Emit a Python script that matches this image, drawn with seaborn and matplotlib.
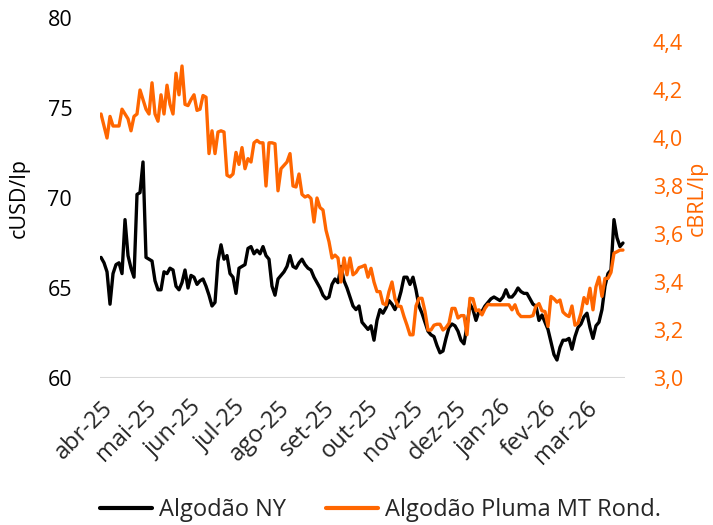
import numpy as np
import pandas as pd
import matplotlib
matplotlib.use("Agg")
import matplotlib.pyplot as plt
import seaborn as sns

# ---------------- data ----------------
month_labels = ["abr-25", "mai-25", "jun-25", "jul-25", "ago-25", "set-25",
                "out-25", "nov-25", "dez-25", "jan-26", "fev-26", "mar-26"]
start_date = "2025-04-01"
end_date = "2026-03-27"

ny_usd = [
    66.7, 66.4, 65.9, 64.1, 65.8, 66.3, 66.4, 65.8, 68.8, 66.8,
    66.1, 65.6, 70.2, 70.3, 72.0, 66.7, 66.6, 66.5, 65.4, 64.9,
    64.9, 65.9, 65.8, 66.1, 66.0, 65.1, 64.9, 65.3, 66.0, 65.0,
    65.7, 65.6, 65.2, 65.4, 65.5, 65.1, 64.6, 64.0, 64.2, 66.5,
    67.4, 66.6, 66.8, 65.8, 65.6, 64.7, 66.1, 66.2, 66.3, 67.2,
    67.3, 66.9, 67.1, 66.9, 67.3, 66.8, 66.6, 65.1, 64.6, 65.5,
    65.7, 65.9, 66.2, 66.8, 66.2, 66.1, 66.4, 66.6, 66.3, 66.1,
    66.0, 65.6, 65.3, 65.0, 64.6, 64.4, 64.5, 65.2, 65.5, 65.3,
    66.2, 65.4, 65.0, 64.5, 64.0, 63.8, 64.0, 63.1, 62.9, 62.7,
    62.9, 62.1, 63.2, 63.8, 63.6, 63.9, 64.3, 64.1, 63.8, 64.2,
    64.8, 65.6, 65.6, 65.2, 65.6, 64.9, 64.0, 63.6, 63.1, 62.6,
    62.4, 62.3, 61.8, 61.4, 61.5, 62.2, 62.8, 63.0, 62.9, 62.6,
    62.1, 61.9, 62.9, 64.1, 63.8, 63.2, 63.7, 63.7, 64.0, 64.2,
    64.4, 64.5, 64.4, 64.3, 64.5, 64.9, 64.5, 64.5, 64.7, 65.0,
    64.8, 64.7, 64.7, 64.4, 64.1, 64.0, 63.2, 63.5, 63.1, 62.7,
    62.0, 61.3, 61.0, 61.7, 62.1, 62.1, 62.2, 61.6, 62.3, 62.8,
    63.0, 63.4, 63.6, 62.8, 62.2, 62.9, 63.1, 63.8, 65.1, 65.8,
    66.0, 68.8, 67.8, 67.3, 67.5,
]

mt_brl = [
    4.10, 4.05, 4.00, 4.09, 4.05, 4.05, 4.05, 4.12, 4.10, 4.08,
    4.03, 4.09, 4.10, 4.20, 4.16, 4.12, 4.10, 4.23, 4.10, 4.07,
    4.18, 4.10, 4.22, 4.14, 4.10, 4.27, 4.18, 4.30, 4.14, 4.135,
    4.16, 4.18, 4.115, 4.12, 4.177, 4.17, 3.935, 4.03, 3.935, 4.025,
    4.03, 4.025, 3.845, 3.838, 3.85, 3.94, 3.89, 3.96, 3.872, 3.914,
    3.90, 3.98, 3.99, 3.98, 3.98, 3.80, 3.98, 3.98, 3.976, 3.78,
    3.872, 3.886, 3.90, 3.935, 3.80, 3.796, 3.85, 3.765, 3.754, 3.76,
    3.748, 3.65, 3.75, 3.71, 3.70, 3.616, 3.568, 3.50, 3.512, 3.50,
    3.40, 3.50, 3.43, 3.50, 3.43, 3.44, 3.46, 3.464, 3.47, 3.42,
    3.457, 3.40, 3.36, 3.36, 3.31, 3.305, 3.36, 3.40, 3.33, 3.30,
    3.298, 3.256, 3.22, 3.18, 3.18, 3.30, 3.332, 3.332, 3.277, 3.20,
    3.20, 3.22, 3.224, 3.224, 3.20, 3.21, 3.228, 3.29, 3.29, 3.25,
    3.26, 3.26, 3.18, 3.332, 3.33, 3.28, 3.284, 3.263, 3.29, 3.307,
    3.305, 3.305, 3.305, 3.305, 3.305, 3.305, 3.305, 3.284, 3.305, 3.27,
    3.256, 3.256, 3.256, 3.256, 3.26, 3.30, 3.31, 3.28, 3.277, 3.215,
    3.34, 3.33, 3.316, 3.325, 3.275, 3.263, 3.256, 3.30, 3.22, 3.228,
    3.27, 3.335, 3.31, 3.374, 3.284, 3.38, 3.42, 3.34, 3.415, 3.415,
    3.44, 3.52, 3.526, 3.533, 3.533,
]

series_names = ["Algodão NY", "Algodão Pluma MT Rond."]
left_ticks = [60, 65, 70, 75, 80]
right_ticks = [3.0, 3.2, 3.4, 3.6, 3.8, 4.0, 4.2, 4.4]

# ---------------- style ----------------
sns.set_style("white")
plt.rcParams["font.family"] = ["Open Sans", "DejaVu Sans"]

ORANGE = "#FF6600"
FS = 15.5

dates = pd.date_range(start_date, end_date, periods=len(ny_usd))
df = pd.DataFrame({"date": dates, "ny": ny_usd, "mt": mt_brl})

fig = plt.figure(figsize=(7.13, 5.25), dpi=100)
ax = fig.add_axes([100 / 713, 1 - 378 / 525, 525 / 713, 360 / 525])
ax2 = ax.twinx()

sns.lineplot(data=df, x="date", y="ny", ax=ax, color="black", lw=2.4, legend=False)
sns.lineplot(data=df, x="date", y="mt", ax=ax2, color=ORANGE, lw=2.4, legend=False)

ax.set_ylim(60, 80)
ax2.set_ylim(3.0, 4.5)
ax.set_yticks(left_ticks)
ax.set_yticklabels([str(v) for v in left_ticks], fontsize=FS, color="black")
ax2.set_yticks(right_ticks)
ax2.set_yticklabels([f"{v:.1f}".replace(".", ",") for v in right_ticks],
                    fontsize=FS, color=ORANGE)

d0 = pd.Timestamp(start_date)
d1 = pd.Timestamp(end_date)
ax.set_xlim(d0 - pd.Timedelta(days=0.7), d1 + pd.Timedelta(days=1.4))

month_ticks = pd.date_range(start_date, periods=len(month_labels), freq="MS")
ax.set_xticks(month_ticks)
ax.set_xticklabels(month_labels, rotation=45, ha="right",
                   rotation_mode="anchor", fontsize=17)

ax.set_xlabel("")
ax.set_ylabel("cUSD/lp", fontsize=FS, color="black", labelpad=13)
ax2.set_ylabel("cBRL/lp", fontsize=FS, color=ORANGE, labelpad=3)

for a in (ax, ax2):
    for s in ("left", "right", "top", "bottom"):
        a.spines[s].set_visible(False)
    a.tick_params(length=0)
ax.tick_params(axis="y", pad=20)
ax2.tick_params(axis="y", pad=20)
ax.tick_params(axis="x", pad=13)
ax.axhline(60, color="#d9d9d9", lw=1.5, zorder=0)

handles = [plt.Line2D([], [], color="black", lw=3),
           plt.Line2D([], [], color=ORANGE, lw=3)]
fig.legend(handles, series_names, loc="center", bbox_to_anchor=(0.534, 0.028),
           ncol=2, frameon=False, fontsize=17, handlelength=2.2,
           handletextpad=0.3, columnspacing=1.7)

fig.savefig("out.png", dpi=100)
